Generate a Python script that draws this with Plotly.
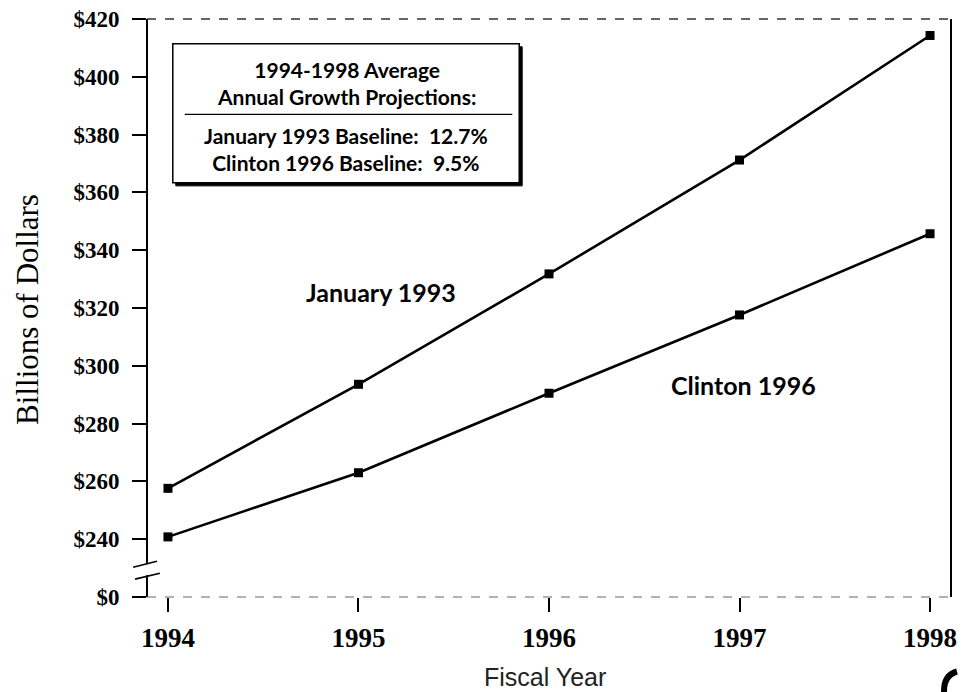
import plotly.graph_objects as go

# Fiscal years and projected outlays (billions of dollars)
years = [1994, 1995, 1996, 1997, 1998]
january_1993 = [257.6, 293.6, 331.8, 371.2, 414.3]
clinton_1996 = [240.8, 263.0, 290.5, 317.6, 345.7]

# Broken y axis: the "$0" tick sits just below the $240 tick
y_tick_vals = [220, 240, 260, 280, 300, 320, 340, 360, 380, 400, 420]
y_tick_text = ["$0", "$240", "$260", "$280", "$300", "$320", "$340",
               "$360", "$380", "$400", "$420"]

box_title = ["1994-1998 Average", "Annual Growth Projections:"]
box_rates = ["January 1993 Baseline:  12.7%", "Clinton 1996 Baseline:  9.5%"]

W, H = 964, 692
L, R, T, B = 147, 7, 15, 95
PW, PH = W - L - R, H - T - B


def px(x):
    return (x - L) / PW


def py(y):
    return (H - B - y) / PH


SERIF = "Liberation Serif"
SANS = "Lato"

fig = go.Figure()
for name, vals in [("January 1993", january_1993), ("Clinton 1996", clinton_1996)]:
    fig.add_trace(go.Scatter(
        x=years, y=vals, name=name, mode="lines+markers",
        line=dict(color="black", width=2.6),
        marker=dict(symbol="square", size=9, color="black"),
        showlegend=False,
    ))

shapes = []
# y axis drawn in two pieces around the break
shapes.append(dict(type="line", xref="paper", yref="paper", x0=0, x1=0,
                   y0=py(564), y1=1, line=dict(color="black", width=2)))
shapes.append(dict(type="line", xref="paper", yref="paper", x0=0, x1=0,
                   y0=0, y1=py(575), line=dict(color="black", width=2)))
# break marks
shapes.append(dict(type="line", xref="paper", yref="paper", x0=px(133), x1=px(157),
                   y0=py(567), y1=py(561), line=dict(color="black", width=1.6)))
shapes.append(dict(type="line", xref="paper", yref="paper", x0=px(135), x1=px(160),
                   y0=py(579), y1=py(573), line=dict(color="black", width=1.6)))
# frame: dashed top and bottom, solid right
shapes.append(dict(type="line", xref="paper", yref="paper", x0=0, x1=1, y0=1, y1=1,
                   line=dict(color="#333", width=1.5, dash="dash")))
shapes.append(dict(type="line", xref="paper", yref="paper", x0=0, x1=1, y0=0, y1=0,
                   line=dict(color="#666", width=1.2, dash="dash")))
shapes.append(dict(type="line", xref="paper", yref="paper", x0=1, x1=1, y0=0, y1=1,
                   line=dict(color="black", width=2)))
# note box with drop shadow
bx0, by0, bx1, by1 = 173, 40, 522, 180
shapes.append(dict(type="rect", xref="paper", yref="paper",
                   x0=px(bx0 + 3), x1=px(bx1 + 3), y0=py(by1 + 3), y1=py(by0 + 3),
                   fillcolor="black", line=dict(color="black", width=1)))
shapes.append(dict(type="rect", xref="paper", yref="paper",
                   x0=px(bx0), x1=px(bx1), y0=py(by1), y1=py(by0),
                   fillcolor="white", line=dict(color="black", width=1.5)))
shapes.append(dict(type="line", xref="paper", yref="paper", x0=px(185), x1=px(515),
                   y0=py(111), y1=py(111), line=dict(color="black", width=1.2)))
# stray ink mark in the lower-right corner of the page
arc = "M {:.4f},{:.4f} Q {:.4f},{:.4f} {:.4f},{:.4f}".format(
    px(963), py(672), px(949), py(676), px(950), py(694))
shapes.append(dict(type="path", xref="paper", yref="paper", path=arc,
                   line=dict(color="black", width=6)))

annotations = []
cx = px((bx0 + bx1) / 2)
for lines, yy in [(box_title, 79), (box_rates, 146)]:
    annotations.append(dict(xref="paper", yref="paper", x=cx, y=py(yy),
                            text="<br>".join(lines),
                            showarrow=False, xanchor="center", yanchor="middle",
                            align="center",
                            font=dict(family=SANS, size=21, color="black", weight="bold")))

annotations.append(dict(x=1995.12, y=325.5, text="January 1993", showarrow=False,
                        xanchor="center", yanchor="middle",
                        font=dict(family=SANS, size=25, color="black", weight="bold")))
annotations.append(dict(x=1997.02, y=293.5, text="Clinton 1996", showarrow=False,
                        xanchor="center", yanchor="middle",
                        font=dict(family=SANS, size=25, color="black", weight="bold")))

annotations.append(dict(xref="paper", yref="paper", x=px(27), y=py(307),
                        text="Billions of Dollars", textangle=-90, showarrow=False,
                        xanchor="center", yanchor="middle",
                        font=dict(family=SERIF, size=31, color="black")))
annotations.append(dict(xref="paper", yref="paper", x=px(548), y=py(678),
                        text="Fiscal Year", showarrow=False,
                        xanchor="center", yanchor="middle",
                        font=dict(family="Liberation Sans", size=25, color="#222")))

fig.update_layout(
    width=W, height=H,
    margin=dict(l=L, r=R, t=T, b=B, pad=0),
    paper_bgcolor="white", plot_bgcolor="white",
    shapes=shapes, annotations=annotations,
    xaxis=dict(range=[1993.89, 1998.11], tickvals=years,
               ticktext=[str(y) for y in years],
               ticks="outside", ticklen=14, tickwidth=1.6, tickcolor="black",
               showline=False, showgrid=False, zeroline=False,
               ticklabelstandoff=3,
               tickfont=dict(family=SERIF, size=27, color="black", weight="bold")),
    yaxis=dict(range=[220, 420], tickvals=y_tick_vals, ticktext=y_tick_text,
               ticks="outside", ticklen=14, tickwidth=1.6, tickcolor="black",
               showline=False, showgrid=False, zeroline=False,
               ticklabelstandoff=8,
               tickfont=dict(family=SERIF, size=23, color="black", weight="bold")),
)

fig.write_html("out.html")
